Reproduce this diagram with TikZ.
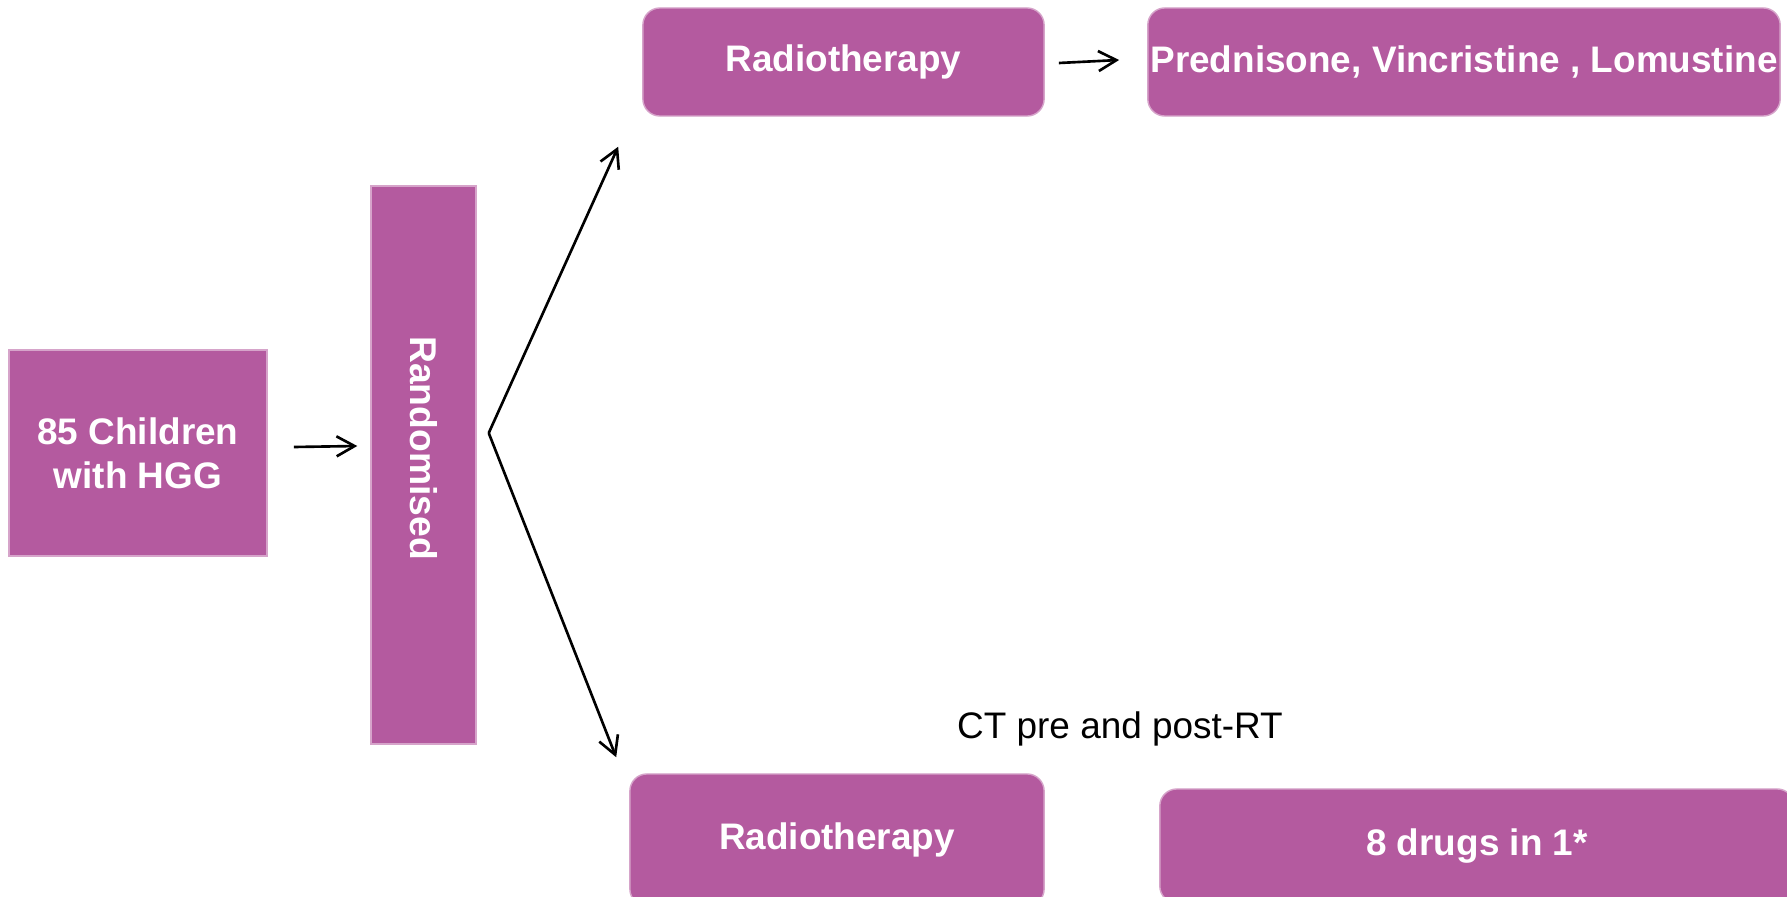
\documentclass[tikz,border=0pt]{standalone}
\usepackage{fontspec}
\setmainfont{Liberation Sans}
\usepackage{tikz}
\usetikzlibrary{arrows.meta}

\definecolor{trialpurple}{RGB}{180,90,159}

\begin{document}
\begin{tikzpicture}[x=0.01cm, y=-0.01cm,
        box/.style={fill=trialpurple, draw=trialpurple!55!white, line width=0.4pt,
            text=white, font=\fontsize{10.5}{12.6}\selectfont\bfseries, align=center,
            inner sep=0pt},
        roundbox/.style={box, rounded corners=0.17cm},
        arr/.style={line width=0.75pt, -{Straight Barb[length=0.18cm,width=0.2cm]}}]
        \useasboundingbox (0,0) rectangle (1787,897);

        \node[box, minimum width=2.58cm, minimum height=2.06cm] (kids) at (138,453) {85 Children\\with HGG};
        \node[box, minimum width=1.05cm, minimum height=5.58cm] (rand) at (423.5,465) {};
        \node[rotate=-90, text=white, font=\fontsize{10.6}{12.6}\selectfont\bfseries] (randtxt) at ([shift={(0,-17)}]rand.center) {Randomised};

        \node[roundbox, minimum width=4.01cm, minimum height=1.08cm] (rt1) at (843.5,62) {Radiotherapy};
        \node[roundbox, minimum width=6.32cm, minimum height=1.08cm] (pvl) at (1464,62) {\raisebox{-0.05cm}{Prednisone, Vincristine , Lomustine}};
        \node[roundbox, minimum width=4.14cm, minimum height=1.32cm] (rt2) at (837,840) {Radiotherapy};
        \node[roundbox, minimum width=6.34cm, minimum height=1.14cm] (drugs) at (1477,846) {8 drugs in 1*};
        \node[font=\fontsize{10.5}{12.6}\selectfont] (ct) at (1120,729) {CT pre and post-RT};

        \coordinate (split) at ([shift={(12,-32)}]rand.east);
        \draw[arr] ([shift={(26,-6)}]kids.east) -- ([shift={(-13,-19)}]rand.west);
        \draw[arr] (split) -- ([shift={(-24,30)}]rt1.south west);
        \draw[arr] (split) -- ([shift={(-13,-16)}]rt2.north west);
        \draw[arr] ([shift={(14,1)}]rt1.east) -- ([shift={(-28,-2)}]pvl.west);
\end{tikzpicture}
\end{document}
